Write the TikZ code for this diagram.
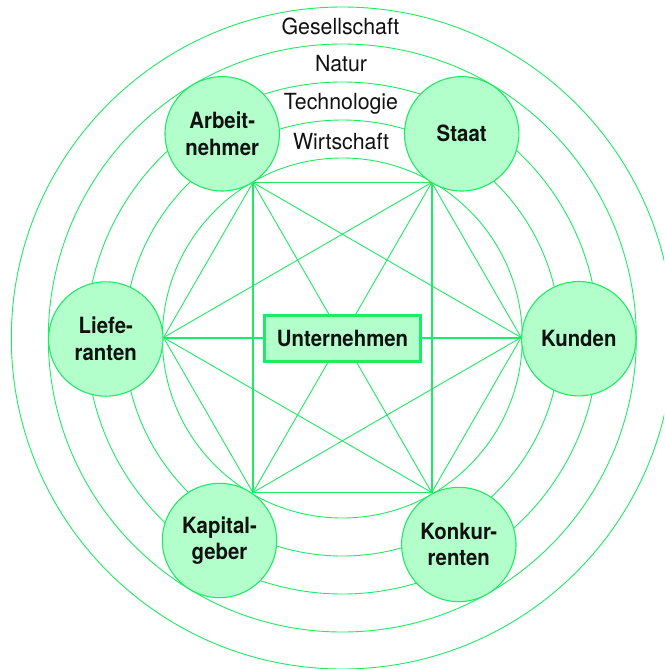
\documentclass[tikz,border=0pt]{standalone}
\usepackage{fontspec}
\newfontfamily\ringfont{TeX Gyre Heros}[FakeStretch=0.96]
\newfontfamily\entfont{TeX Gyre Heros}[FakeStretch=0.91]
\definecolor{gline}{RGB}{30,235,100}
\definecolor{gfill}{RGB}{179,255,204}
\definecolor{ink}{RGB}{17,17,17}
\tikzset{
  ring/.style={draw=gline, line width=0.9pt},
  ringlabel/.style={anchor=base, inner sep=0pt, text=ink, font=\ringfont\fontsize{22.2}{25}\selectfont},
  entity/.style={circle, draw=gline, line width=1.1pt, fill=gfill, minimum size=114.4pt, inner sep=0pt, align=center, text=ink, font=\entfont\bfseries\fontsize{22.4}{26.5}\selectfont},
  thinedge/.style={draw=gline, line width=0.9pt},
  thickedge/.style={draw=gline, line width=2pt},
  centerbox/.style={rectangle, draw=gline, line width=2.5pt, fill=gfill, minimum width=156pt, minimum height=46pt, inner sep=0pt, text=ink, font=\entfont\bfseries\fontsize{22.4}{26.5}\selectfont}
}
\begin{document}
\begin{tikzpicture}[x=1pt,y=-1pt]
\useasboundingbox (0,0) rectangle (664,669);
\clip (0,0) rectangle (664,669);
\fill[white] (0,0) rectangle (664,669);
% concentric rings
\coordinate (C) at (342.3,338);
\foreach \r in {180,218,256,294,331} {
  \draw[ring] (C) circle[radius=\r pt];
}
% ring labels
\node[ringlabel] (lG) at (340.5,34.7) {Gesellschaft};
\node[ringlabel] (lN) at (341,71.8) {Natur};
\node[ringlabel] (lT) at (341,109.3) {Technologie};
\node[ringlabel] (lW) at (341,149.3) {Wirtschaft};
% hexagon vertices
\coordinate (vK)  at (521.1,337.5);
\coordinate (vS)  at (431.7,182.5);
\coordinate (vA)  at (252.9,182.5);
\coordinate (vL)  at (163.5,337.5);
\coordinate (vKa) at (252.9,492.5);
\coordinate (vKo) at (431.7,492.5);
% thin connectors
\draw[thinedge] (vA) -- (vS);
\draw[thinedge] (vKa) -- (vKo);
\draw[thinedge] (vA) -- (vL);
\draw[thinedge] (vL) -- (vKa);
\draw[thinedge] (vS) -- (vK);
\draw[thinedge] (vK) -- (vKo);
\draw[thinedge] (vA) -- (vK);
\draw[thinedge] (vA) -- (vKo);
\draw[thinedge] (vS) -- (vKa);
\draw[thinedge] (vS) -- (vL);
\draw[thinedge] (vL) -- (vKo);
\draw[thinedge] (vK) -- (vKa);
% thick connectors
\draw[thickedge] (vA) -- (vKa);
\draw[thickedge] (vS) -- (vKo);
\draw[thickedge] (vL) -- (vK);
% entity circles
\node[entity] (A)  at (222.2,133.8) {Arbeit-\\nehmer};
\node[entity] (S)  at (461.7,133.8) {Staat};
\node[entity] (L)  at (105.8,339.0) {Liefe-\\ranten};
\node[entity] (K)  at (578.8,338.7) {Kunden};
\node[entity] (Ka) at (219.5,540.5) {Kapital-\\geber};
\node[entity] (Ko) at (458.8,544.5) {Konkur-\\renten};
% centre box
\node[centerbox] (U) at (342.5,338.5) {Unternehmen};
\end{tikzpicture}
\end{document}
